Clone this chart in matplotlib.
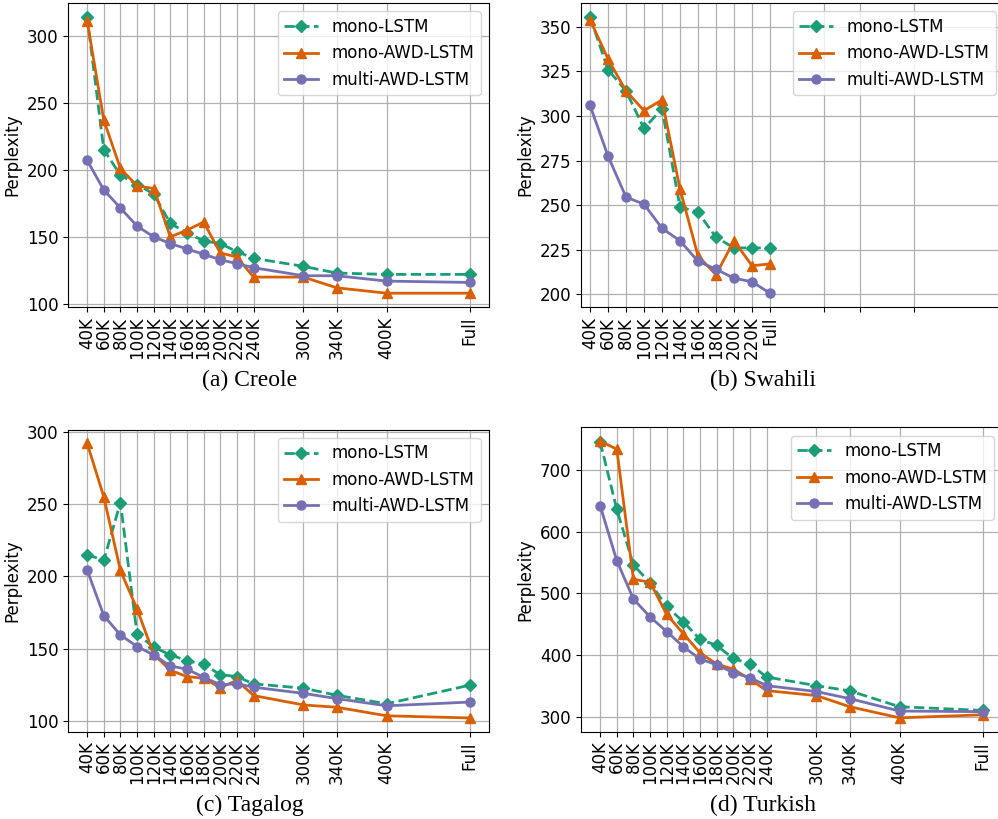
import matplotlib
matplotlib.use("Agg")
import matplotlib.pyplot as plt

plt.rcParams["font.family"] = ["DejaVu Sans"]

# ---------------- data ----------------
sizes_long = [40, 60, 80, 100, 120, 140, 160, 180, 200, 220, 240, 300, 340, 400, 500]
labels_long = ["40K", "60K", "80K", "100K", "120K", "140K", "160K", "180K", "200K",
               "220K", "240K", "300K", "340K", "400K", "Full"]

sizes_swahili = [40, 60, 80, 100, 120, 140, 160, 180, 200, 220, 240]
labels_swahili = ["40K", "60K", "80K", "100K", "120K", "140K", "160K", "180K", "200K",
                  "220K", "Full"]
extra_swahili_ticks = [300, 340, 400, 500]

series_names = ["mono-LSTM", "mono-AWD-LSTM", "multi-AWD-LSTM"]

creole_mono_lstm = [314, 215, 196, 189, 182, 160, 153, 147, 145, 139, 134, 128, 123, 122, 122]
creole_mono_awd = [311, 237, 201, 188, 186, 150, 155, 161, 138, 135, 120, 120, 112, 108, 108]
creole_multi_awd = [207, 185, 171.5, 158, 150, 145, 141, 137, 133, 130, 127, 121, 121, 117, 116]

swahili_mono_lstm = [355.6, 326, 314, 293, 304, 249, 246, 232, 226, 226, 226]
swahili_mono_awd = [354, 332, 314, 303, 309, 259, 221.5, 211, 230, 216, 217]
swahili_multi_awd = [306, 277.5, 254.5, 250.5, 237, 230, 218.5, 214, 209, 207, 200.6]

tagalog_mono_lstm = [215, 211, 251, 160, 151, 145.6, 141.7, 139, 132, 130.6, 125.6, 122.6, 117.7, 111.8, 124.7]
tagalog_mono_awd = [292, 255, 204, 177.4, 146, 135, 130.6, 129.5, 123, 128, 117.5, 111, 109.4, 103.5, 102]
tagalog_multi_awd = [204.4, 172.8, 159.4, 151.4, 145.6, 138, 135.7, 130.2, 125, 125.6, 123.3, 119, 115.4, 110.4, 113]

turkish_mono_lstm = [745, 636, 546, 517, 479, 454, 426, 416, 395, 386, 365, 351, 342.6, 317, 311]
turkish_mono_awd = [746, 733, 523, 518, 466, 435, 404, 386, 377.6, 361.5, 343, 335, 317, 299, 304]
turkish_multi_awd = [642, 553, 491, 462, 438.5, 414, 394, 385, 372, 364, 351, 341.5, 330, 310, 309]

captions = ["(a) Creole", "(b) Swahili", "(c) Tagalog", "(d) Turkish"]

creole_yticks = [100, 150, 200, 250, 300]
swahili_yticks = [200, 225, 250, 275, 300, 325, 350]
tagalog_yticks = [100, 150, 200, 250, 300]
turkish_yticks = [300, 400, 500, 600, 700]

# ---------------- style ----------------
colors = ["#1b9e77", "#d95f02", "#7570b3"]
markers = ["D", "^", "o"]
linestyles = ["--", "-", "-"]
msizes = [6.5, 7.5, 6.5]

W, H = 998, 819
fig = plt.figure(figsize=(W / 100, H / 100), dpi=100)


def px_axes(left, top, right, bottom):
    return fig.add_axes([left / W, 1 - bottom / H, (right - left) / W, (bottom - top) / H])


def draw(ax, x, ys, yticks):
    for y, c, m, ls, ms, name in zip(ys, colors, markers, linestyles, msizes, series_names):
        ax.plot(x, y, color=c, marker=m, linestyle=ls, linewidth=2, markersize=ms, label=name)
    ax.set_yticks(yticks)
    ax.grid(True, color="#b0b0b0", linewidth=0.9)
    ax.set_axisbelow(True)
    ax.set_ylabel("Perplexity", fontsize=12)
    ax.tick_params(axis="both", labelsize=12)
    ax.legend(loc="upper right", fontsize=12)


ax1 = px_axes(68, 3, 489, 307)
draw(ax1, sizes_long, [creole_mono_lstm, creole_mono_awd, creole_multi_awd], creole_yticks)
ax1.set_xticks(sizes_long)
ax1.set_xticklabels(labels_long, rotation=90)

ax2 = px_axes(581, 3, 1004, 307)
draw(ax2, sizes_swahili, [swahili_mono_lstm, swahili_mono_awd, swahili_multi_awd], swahili_yticks)
ax2.set_xticks(sizes_swahili + extra_swahili_ticks)
ax2.set_xticklabels(labels_swahili + [""] * len(extra_swahili_ticks), rotation=90)
ax2.set_xlim(30, 500)

ax3 = px_axes(68, 429.5, 489, 731.7)
draw(ax3, sizes_long, [tagalog_mono_lstm, tagalog_mono_awd, tagalog_multi_awd], tagalog_yticks)
ax3.set_xticks(sizes_long)
ax3.set_xticklabels(labels_long, rotation=90)

ax4 = px_axes(581, 427.3, 1002, 731.7)
draw(ax4, sizes_long, [turkish_mono_lstm, turkish_mono_awd, turkish_multi_awd], turkish_yticks)
ax4.set_xticks(sizes_long)
ax4.set_xticklabels(labels_long, rotation=90)

cap_pos = [(250, 380), (763, 380), (250, 805), (763, 805)]
for (cx, cy), cap in zip(cap_pos, captions):
    fig.text(cx / W, 1 - cy / H, cap, ha="center", va="center",
             fontsize=17, family="Liberation Serif")

fig.savefig("out.png", dpi=100)
